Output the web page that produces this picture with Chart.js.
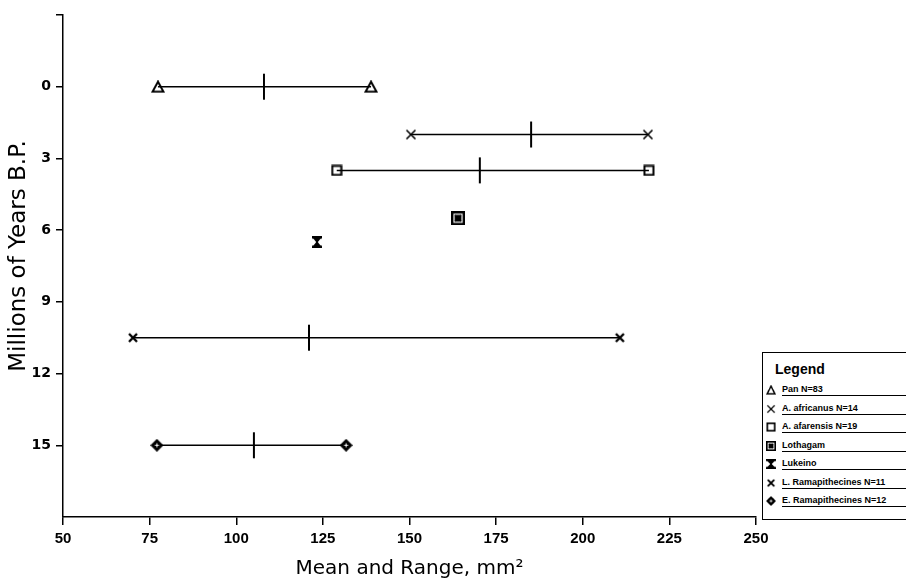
<!DOCTYPE html>
<html>
<head>
<meta charset="utf-8">
<script src="https://cdn.jsdelivr.net/npm/chart.js@4"></script>
<style>
  body { margin: 0; background: #fff; }
  #wrap { position: relative; width: 906px; height: 581px; }
  #legend {
    position: absolute; left: 762px; top: 352px; width: 150px; height: 168px;
    border: 1.5px solid #000; border-right: none; box-sizing: border-box;
    font-family: "Liberation Sans", Arial, sans-serif; background: #fff;
  }
  #legend .ttl { font-weight: bold; font-size: 14px; margin: 8px 0 4px 12px; }
  #legend .row { display: flex; align-items: center; height: 18.5px; }
  #legend .row canvas { width: 10px; height: 10px; margin: 0 6px 0 3px; }
  #legend .row span {
    flex: 1; font-size: 9px; font-weight: bold; line-height: 11px;
    border-bottom: 1.3px solid #000; white-space: nowrap; overflow: hidden;
  }
</style>
</head>
<body>
<div id="wrap">
  <canvas id="chart" width="906" height="581"></canvas>
  <div id="legend"><div class="ttl">Legend</div></div>
</div>
<script>
// valeurs
const groups = ["Pan N=83", "A. africanus N=14", "A. afarensis N=19", "Lothagam", "Lukeino", "L. Ramapithecines N=11", "E. Ramapithecines N=12"];
const ages = [0, 2, 3.5, 5.5, 6.5, 10.5, 15];
const minVals = [77.4, 150.4, 129, null, null, 70.2, 77.1];
const meanVals = [108, 185.1, 170.3, 164, 123.3, 121, 105.1];
const maxVals = [138.9, 218.8, 219.1, null, null, 210.7, 131.7];
const xTicks = [50, 75, 100, 125, 150, 175, 200, 225, 250];
const yTicks = [0, 3, 6, 9, 12, 15];

// petits symboles dessinés à la main
function icon(w, h, draw) {
  const c = document.createElement("canvas");
  c.width = w; c.height = h;
  const g = c.getContext("2d");
  g.strokeStyle = "#000"; g.fillStyle = "#000";
  draw(g, w, h);
  return c;
}
const symbols = [
  () => icon(14, 13, g => { g.lineWidth = 2; g.beginPath(); g.moveTo(7, 1.5); g.lineTo(12.5, 11.5); g.lineTo(1.5, 11.5); g.closePath(); g.stroke(); }),
  () => icon(12, 12, g => { g.lineWidth = 1.6; g.beginPath(); g.moveTo(1.5, 1.5); g.lineTo(10.5, 10.5); g.moveTo(10.5, 1.5); g.lineTo(1.5, 10.5); g.stroke(); }),
  () => icon(12, 12, g => { g.lineWidth = 2; g.strokeRect(1.5, 1.5, 9, 9); }),
  () => icon(14, 14, g => {
    g.fillRect(0, 0, 14, 14);
    g.strokeStyle = "#fff"; g.lineWidth = 1.2; g.strokeRect(3, 3, 8, 8);
    g.strokeStyle = "#000"; g.lineWidth = 1.4; g.beginPath(); g.moveTo(4, 4); g.lineTo(10, 10); g.moveTo(10, 4); g.lineTo(4, 10); g.stroke();
  }),
  () => icon(10, 12, g => {
    g.fillRect(0, 0, 10, 2.5); g.fillRect(0, 9.5, 10, 2.5);
    g.beginPath(); g.moveTo(1, 2); g.lineTo(9, 2); g.lineTo(5.8, 6); g.lineTo(9, 10); g.lineTo(1, 10); g.lineTo(4.2, 6); g.closePath(); g.fill();
  }),
  () => icon(12, 12, g => {
    g.lineWidth = 2.4; g.beginPath(); g.moveTo(2, 2); g.lineTo(10, 10); g.moveTo(10, 2); g.lineTo(2, 10); g.stroke();
  }),
  () => icon(13, 13, g => {
    g.beginPath(); g.moveTo(6.5, 0); g.lineTo(13, 6.5); g.lineTo(6.5, 13); g.lineTo(0, 6.5); g.closePath(); g.fill();
    g.strokeStyle = "#fff"; g.lineWidth = 1; g.beginPath(); g.moveTo(6.5, 4.5); g.lineTo(6.5, 8.5); g.moveTo(4.5, 6.5); g.lineTo(8.5, 6.5); g.stroke();
  })
];

// jeux de données : une barre min-max par groupe + les moyennes
const datasets = [];
groups.forEach((name, i) => {
  if (minVals[i] === null) return;
  datasets.push({
    label: name,
    data: [{ x: minVals[i], y: ages[i] }, { x: maxVals[i], y: ages[i] }],
    showLine: true,
    borderColor: "#000",
    borderWidth: 1.5,
    pointStyle: symbols[i](),
    pointRadius: 6
  });
});
datasets.push({
  label: "means",
  data: groups.map((g, i) => ({ x: meanVals[i], y: ages[i] })),
  showLine: false,
  borderColor: "#000",
  backgroundColor: "#000",
  borderWidth: 2,
  pointStyle: groups.map((g, i) => minVals[i] === null ? symbols[i]() : "line"),
  pointRotation: groups.map((g, i) => minVals[i] === null ? 0 : 90),
  pointRadius: 13
});

// titre de l'axe y placé comme sur la figure
const yTitle = {
  id: "yTitle",
  afterDraw(chart) {
    const c = chart.ctx;
    c.save();
    c.translate(19, 256);
    c.rotate(-Math.PI / 2);
    c.font = "23px 'DejaVu Sans'";
    c.fillStyle = "#000";
    c.textAlign = "center";
    c.textBaseline = "middle";
    c.fillText("Millions of Years B.P.", 0, 0);
    c.restore();
  }
};

const ctx = document.getElementById("chart").getContext("2d");
new Chart(ctx, {
  type: "scatter",
  data: { datasets },
  plugins: [yTitle],
  options: {
    responsive: false,
    animation: false,
    layout: { padding: { top: 12, right: 150, left: 0, bottom: 0 } },
    plugins: { legend: { display: false }, tooltip: { enabled: false } },
    scales: {
      x: {
        type: "linear", min: xTicks[0], max: xTicks[xTicks.length - 1],
        afterBuildTicks: s => { s.ticks = xTicks.map(v => ({ value: v })); },
        afterFit: s => { s.height = 64; },
        ticks: { color: "#000", font: { family: "Liberation Sans", size: 15, weight: "bold" }, padding: 5 },
        grid: { drawOnChartArea: false, tickLength: 8, color: "#000", lineWidth: 1.5 },
        border: { color: "#000", width: 1.5 },
        title: { display: true, text: "Mean and Range, mm²", color: "#000", font: { family: "DejaVu Sans", size: 20 }, padding: 0 }
      },
      y: {
        type: "linear", reverse: true, min: -3, max: 18,
        afterBuildTicks: s => { s.ticks = [-3].concat(yTicks).map(v => ({ value: v })); },
        afterFit: s => { s.width = 63; },
        ticks: { color: "#000", font: { family: "DejaVu Sans", size: 14, weight: "bold" }, padding: 5,
                 callback: v => yTicks.includes(v) ? v : "" },
        grid: { drawOnChartArea: false, tickLength: 7, color: "#000", lineWidth: 1.5 },
        border: { color: "#000", width: 1.5 },
        title: { display: false }
      }
    }
  }
});

// légende à droite
const legend = document.getElementById("legend");
groups.forEach((name, i) => {
  const row = document.createElement("div");
  row.className = "row";
  row.appendChild(symbols[i]());
  const t = document.createElement("span");
  t.textContent = name;
  row.appendChild(t);
  legend.appendChild(row);
});
</script>
</body>
</html>
